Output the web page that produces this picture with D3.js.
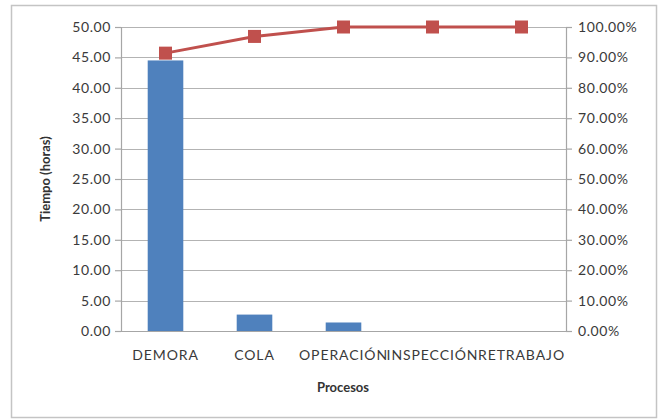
<!DOCTYPE html>
<html><head><meta charset="utf-8">
<script src="https://cdn.jsdelivr.net/npm/d3@7"></script>
<style>body{margin:0;background:#fff;}svg{display:block;font-family:Lato,"Open Sans",sans-serif;}</style>
</head><body>
<script>
const categories = ["DEMORA","COLA","OPERACIÓN","INSPECCIÓN","RETRABAJO"];
const hours = [44.5, 2.7, 1.4, 0, 0];
const cumulativePct = [91.4, 96.9, 100, 100, 100];
const leftTicks = [0,5,10,15,20,25,30,35,40,45,50];
const rightTicks = [0,10,20,30,40,50,60,70,80,90,100];

const W = 662, H = 420;
const m = {l:121, r:566, t:27, b:331};
const svg = d3.select("body").append("svg").attr("width",W).attr("height",H);
svg.append("rect").attr("x",11.5).attr("y",5.5).attr("width",645).attr("height",412)
  .attr("fill","#fff").attr("stroke","#c4c4c4").attr("stroke-width",1.5);

const x = d3.scaleBand().domain(categories).range([m.l,m.r]).paddingInner(0.6).paddingOuter(0.3);
const xc = d3.scalePoint().domain(categories).range([m.l,m.r]).padding(0.5);
const y = d3.scaleLinear().domain([0,50]).range([m.b,m.t]);
const y2 = d3.scaleLinear().domain([0,100]).range([m.b,m.t]);

// grid
svg.append("g").selectAll("line").data(leftTicks).join("line")
  .attr("x1",m.l).attr("x2",m.r).attr("y1",d=>Math.round(y(d))+0.5).attr("y2",d=>Math.round(y(d))+0.5)
  .attr("stroke","#b3b3b3").attr("stroke-width",1.2);

// axes
const gl = svg.append("g").attr("transform",`translate(${m.l},0)`)
  .call(d3.axisLeft(y).tickValues(leftTicks).tickFormat(d3.format(".2f")).tickSize(6).tickPadding(4));
const gr = svg.append("g").attr("transform",`translate(${m.r},0)`)
  .call(d3.axisRight(y2).tickValues(rightTicks).tickFormat(d=>d.toFixed(2)+"%").tickSize(6).tickPadding(6));
[gl,gr].forEach(g=>{
  g.select(".domain").attr("stroke","#a6a6a6").attr("stroke-width",1.2);
  g.selectAll(".tick line").attr("stroke","#a6a6a6").attr("stroke-width",1.2);
  g.selectAll(".tick text").attr("fill","#3a3a3a").style("font-size","14px").style("letter-spacing","0.6px").style("font-family","Lato,'Open Sans',sans-serif");
});

// bars
svg.append("g").selectAll("rect").data(categories).join("rect")
  .attr("x",d=>x(d)).attr("width",x.bandwidth())
  .attr("y",(d,i)=>y(hours[i])).attr("height",(d,i)=>y(0)-y(hours[i]))
  .attr("fill","#4f81bd");

// bottom axis line
svg.append("line").attr("x1",m.l).attr("x2",m.r).attr("y1",m.b+0.5).attr("y2",m.b+0.5)
  .attr("stroke","#a6a6a6").attr("stroke-width",1.2);

// category labels
svg.append("g").selectAll("text").data(categories).join("text")
  .attr("x",d=>xc(d)).attr("y",360).attr("text-anchor","middle")
  .attr("fill","#3a3a3a").style("font-size","14px").style("letter-spacing","0.9px").text(d=>d);

// line
const line = d3.line().x((d,i)=>xc(categories[i])).y(d=>y2(d));
svg.append("path").datum(cumulativePct).attr("d",line).attr("fill","none")
  .attr("stroke","#c0504d").attr("stroke-width",3);
svg.append("g").selectAll("rect").data(cumulativePct).join("rect")
  .attr("x",(d,i)=>xc(categories[i])-6.5).attr("y",d=>y2(d)-6.5).attr("width",13).attr("height",13)
  .attr("fill","#c0504d");

// titles
svg.append("text").attr("x",343).attr("y",392).attr("text-anchor","middle")
  .attr("fill","#333").style("font-size","13px").style("font-weight","bold").text("Procesos");
svg.append("text").attr("transform","translate(50,179) rotate(-90)").attr("text-anchor","middle")
  .attr("fill","#333").style("font-size","13px").style("font-weight","bold").text("Tiempo (horas)");
</script>
</body></html>
